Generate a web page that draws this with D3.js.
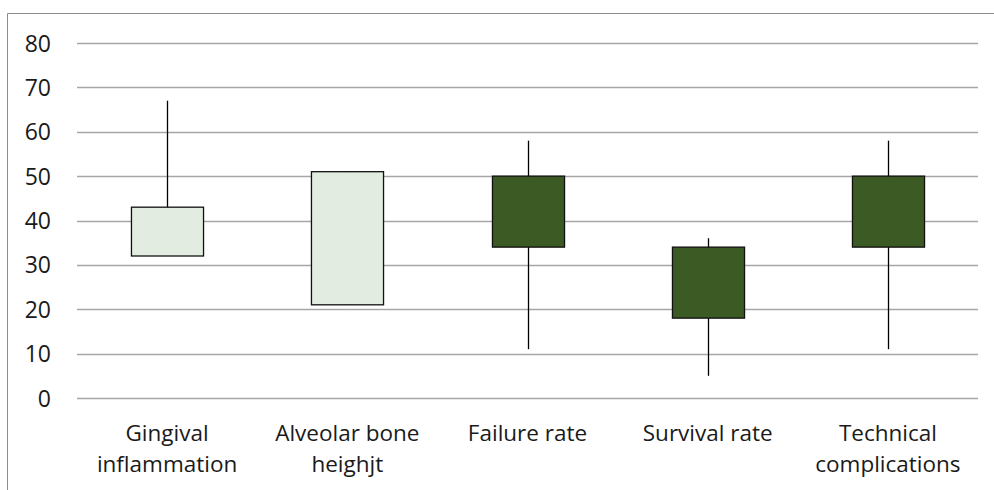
<!DOCTYPE html>
<html>
<head>
<meta charset="utf-8">
<script src="https://cdn.jsdelivr.net/npm/d3@7"></script>
<style>
  html, body { margin: 0; padding: 0; background: #fff; }
  svg { display: block; }
  text { font-family: "Open Sans", sans-serif; fill: #1a1a1a; }
</style>
</head>
<body>
<svg id="chart" width="994" height="490"></svg>
<script>
const categories = [
  ["Gingival", "inflammation"],
  ["Alveolar bone", "heighjt"],
  ["Failure rate"],
  ["Survival rate"],
  ["Technical", "complications"]
];
const openValues  = [32, 21, 50, 34, 50];
const highValues  = [67, 51, 58, 36, 58];
const lowValues   = [32, 21, 11, 5, 11];
const closeValues = [43, 51, 34, 18, 34];
const yTicks = [0, 10, 20, 30, 40, 50, 60, 70, 80];

const svg = d3.select("#chart");
const plot = { left: 77, right: 978, top: 43, bottom: 398 };

// chart area border (top and left visible)
svg.append("path")
  .attr("d", "M7.5,490 V13.5 H994")
  .attr("fill", "none")
  .attr("stroke", "#8c8c8c")
  .attr("stroke-width", 1);

const x = d3.scaleBand()
  .domain(d3.range(categories.length))
  .range([plot.left, plot.right])
  .paddingInner(0).paddingOuter(0);

const y = d3.scaleLinear().domain([0, 80]).range([plot.bottom, plot.top]);

// gridlines
svg.append("g").selectAll("line").data(yTicks).join("line")
  .attr("x1", plot.left).attr("x2", plot.right)
  .attr("y1", d => Math.round(y(d)) + 0.5).attr("y2", d => Math.round(y(d)) + 0.5)
  .attr("stroke", "#a6a6a6").attr("stroke-width", 1.3);

// y tick labels
const yAxis = d3.axisLeft(y).tickValues(yTicks).tickSize(0).tickPadding(0);
const ya = svg.append("g").attr("transform", "translate(51,0)").call(yAxis);
ya.select(".domain").remove();
ya.selectAll("text")
  .attr("font-family", "Open Sans, sans-serif")
  .attr("font-size", 23)
  .attr("fill", "#1a1a1a")
  .attr("dy", "0.35em");

const data = categories.map((c, i) => ({
  i, open: openValues[i], high: highValues[i], low: lowValues[i], close: closeValues[i]
}));

const bw = x.bandwidth() * 0.4;
const cx = i => Math.round(x(i) + x.bandwidth() / 2) + 0.5;

// wicks
svg.append("g").selectAll("line").data(data).join("line")
  .attr("x1", d => cx(d.i)).attr("x2", d => cx(d.i))
  .attr("y1", d => y(d.high)).attr("y2", d => y(d.low))
  .attr("stroke", "#000").attr("stroke-width", 1.3);

// bodies
svg.append("g").selectAll("rect").data(data).join("rect")
  .attr("x", d => cx(d.i) - bw / 2)
  .attr("width", bw)
  .attr("y", d => y(Math.max(d.open, d.close)))
  .attr("height", d => Math.abs(y(d.open) - y(d.close)))
  .attr("fill", d => d.close >= d.open ? "#e3ece0" : "#3b5a24")
  .attr("stroke", "#111").attr("stroke-width", 1.3);

// category labels
const lbl = svg.append("g").selectAll("text").data(categories).join("text")
  .attr("text-anchor", "middle")
  .attr("font-size", 22.5)
  .attr("x", (d, i) => x(i) + x.bandwidth() / 2)
  .attr("y", 441);
lbl.selectAll("tspan").data(d => d).join("tspan")
  .attr("x", function () { return d3.select(this.parentNode).attr("x"); })
  .attr("dy", (d, j) => j === 0 ? 0 : 31)
  .text(d => d);
</script>
</body>
</html>
